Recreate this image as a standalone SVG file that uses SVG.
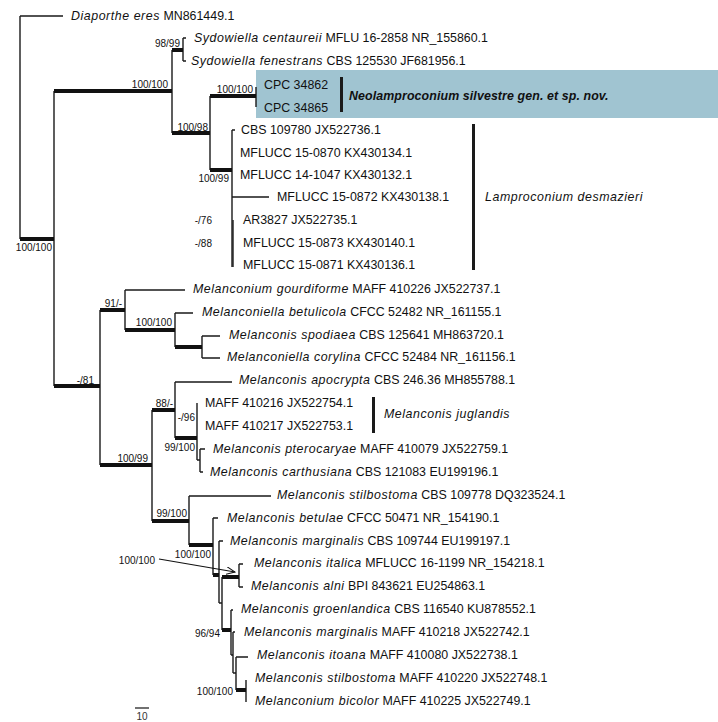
<svg xmlns="http://www.w3.org/2000/svg" width="718" height="722" viewBox="0 0 718 722">
<style>
text{font-family:"Liberation Sans",Arial,sans-serif;fill:#111}
.tip{font-size:12.4px}
.bs{font-size:10px;fill:#333}
.i{font-style:italic;letter-spacing:0.55px}
.b{font-weight:bold;letter-spacing:0.1px}
.br{stroke:#1a1a1a;stroke-width:1.4;fill:none}
.th{stroke:#111;stroke-width:4;fill:none}
.bar{fill:#1a1a1a}
</style>
<defs>
<marker id="ah" markerWidth="10" markerHeight="8" refX="9" refY="4" orient="auto" markerUnits="userSpaceOnUse">
<path d="M0,0 L9,4 L0,8" fill="none" stroke="#111" stroke-width="1"/>
</marker>
</defs>
<rect width="718" height="722" fill="#fff"/>
<g id="highlight">
<rect x="256" y="70" width="462" height="48" fill="#a0c4d1"/>
</g>
<g id="connectors">
<path class="br" d="M20,16V239 M20,16H63 M54,91V386 M172,50V133 M183,38V61 M183,38H186 M183,61H186 M210,96V170 M256,87V107 M232,130V267 M232,130H235 M232,197H269 M100,310V465 M125,290V330 M125,290H185 M175,313V347 M175,313H193 M202,336V358 M202,336H220 M202,358H220 M152,410V521 M175,382V438 M175,382H232 M197,403V460 M197,460H200 M200,449V472 M200,449H205 M200,472H203 M189,496V545 M189,496H271 M213,518V575 M213,518H218 M219,541V603 M219,541H223 M219,603H222 M222,577V630 M239,564V587 M239,564H243 M239,587H243 M231,610V655 M231,610H233 M233,632V673 M231,655H233 M233,632H235 M236,657V690 M236,657H248 M233,673H236 M246,680V702"/>
<path class="br" stroke-width="2.6" d="M233,220V267"/>
<path class="th" d="M20,239H54 M54,91H172 M172,50H183 M172,133H210 M210,96H256 M210,170H232 M54,386H100 M100,310H125 M125,330H175 M175,347H202 M100,465H152 M152,410H175 M175,438H197 M152,521H189 M189,545H213 M213,575H219 M222,577H239 M222,630H231 M236,690H246"/>
<line x1="159" y1="559" x2="235" y2="572" stroke="#111" stroke-width="1.1" marker-end="url(#ah)"/>
<line x1="135" y1="708" x2="149" y2="708" stroke="#111" stroke-width="1.2"/>
</g>
<g id="clade-bars">
<rect class="bar" x="340" y="77" width="3" height="35"/>
<rect class="bar" x="472" y="124" width="3" height="146"/>
<rect class="bar" x="372" y="397" width="3" height="36"/>
</g>
<g id="tips" class="tip">
<g id="t1"><text x="71" y="20"><tspan class="i">Diaporthe eres</tspan> MN861449.1</text></g>
<g id="t2"><text x="194" y="42"><tspan class="i">Sydowiella centaureii</tspan> MFLU 16-2858 NR_155860.1</text></g>
<g id="t3"><text x="191" y="65"><tspan class="i">Sydowiella fenestrans</tspan> CBS 125530 JF681956.1</text></g>
<g id="t4"><text x="264" y="89">CPC 34862</text></g>
<g id="t5"><text x="264" y="112">CPC 34865</text></g>
<g id="t6"><text x="241" y="134">CBS 109780 JX522736.1</text></g>
<g id="t7"><text x="240" y="157">MFLUCC 15-0870 KX430134.1</text></g>
<g id="t8"><text x="240" y="179">MFLUCC 14-1047 KX430132.1</text></g>
<g id="t9"><text x="277" y="201">MFLUCC 15-0872 KX430138.1</text></g>
<g id="t10"><text x="243" y="224">AR3827 JX522735.1</text></g>
<g id="t11"><text x="243" y="247">MFLUCC 15-0873 KX430140.1</text></g>
<g id="t12"><text x="243" y="269">MFLUCC 15-0871 KX430136.1</text></g>
<g id="t13"><text x="193" y="293"><tspan class="i">Melanconium gourdiforme</tspan> MAFF 410226 JX522737.1</text></g>
<g id="t14"><text x="202" y="316"><tspan class="i">Melanconiella betulicola</tspan> CFCC 52482 NR_161155.1</text></g>
<g id="t15"><text x="229" y="339"><tspan class="i">Melanconis spodiaea</tspan> CBS 125641 MH863720.1</text></g>
<g id="t16"><text x="227" y="361"><tspan class="i">Melanconiella corylina</tspan> CFCC 52484 NR_161156.1</text></g>
<g id="t17"><text x="239" y="384"><tspan class="i">Melanconis apocrypta</tspan> CBS 246.36 MH855788.1</text></g>
<g id="t18"><text x="205" y="407">MAFF 410216 JX522754.1</text></g>
<g id="t19"><text x="205" y="430">MAFF 410217 JX522753.1</text></g>
<g id="t20"><text x="213" y="453"><tspan class="i">Melanconis pterocaryae</tspan> MAFF 410079 JX522759.1</text></g>
<g id="t21"><text x="210" y="476"><tspan class="i">Melanconis carthusiana</tspan> CBS 121083 EU199196.1</text></g>
<g id="t22"><text x="277" y="499"><tspan class="i">Melanconis stilbostoma</tspan> CBS 109778 DQ323524.1</text></g>
<g id="t23"><text x="227" y="522"><tspan class="i">Melanconis betulae</tspan> CFCC 50471 NR_154190.1</text></g>
<g id="t24"><text x="230" y="545"><tspan class="i">Melanconis marginalis</tspan> CBS 109744 EU199197.1</text></g>
<g id="t25"><text x="254" y="567"><tspan class="i">Melanconis italica</tspan> MFLUCC 16-1199 NR_154218.1</text></g>
<g id="t26"><text x="251" y="590"><tspan class="i">Melanconis alni</tspan> BPI 843621 EU254863.1</text></g>
<g id="t27"><text x="241" y="613"><tspan class="i">Melanconis groenlandica</tspan> CBS 116540 KU878552.1</text></g>
<g id="t28"><text x="244" y="636"><tspan class="i">Melanconis marginalis</tspan> MAFF 410218 JX522742.1</text></g>
<g id="t29"><text x="257" y="659"><tspan class="i">Melanconis itoana</tspan> MAFF 410080 JX522738.1</text></g>
<g id="t30"><text x="255" y="682"><tspan class="i">Melanconis stilbostoma</tspan> MAFF 410220 JX522748.1</text></g>
<g id="t31"><text x="255" y="705"><tspan class="i">Melanconium bicolor</tspan> MAFF 410225 JX522749.1</text></g>
</g>
<g id="clade-labels" class="tip">
<g id="c1"><text x="349" y="100" class="i b">Neolamproconium silvestre gen. et sp. nov.</text></g>
<g id="c2"><text x="485" y="201" class="i">Lamproconium desmazieri</text></g>
<g id="c3"><text x="384" y="418" class="i">Melanconis juglandis</text></g>
</g>
<g id="support" class="bs" text-anchor="end">
<text x="52" y="251">100/100</text>
<text x="168" y="88">100/100</text>
<text x="180" y="47">98/99</text>
<text x="208" y="131">100/98</text>
<text x="253" y="93">100/100</text>
<text x="229" y="182">100/99</text>
<text x="212" y="224">-/76</text>
<text x="212" y="247">-/88</text>
<text x="94" y="384">-/81</text>
<text x="122" y="307">91/-</text>
<text x="172" y="326">100/100</text>
<text x="173" y="407">88/-</text>
<text x="195" y="421">-/96</text>
<text x="195" y="451">99/100</text>
<text x="148" y="462">100/99</text>
<text x="187" y="517">99/100</text>
<text x="211" y="558">100/100</text>
<text x="155" y="564">100/100</text>
<text x="220" y="637">96/94</text>
<text x="233" y="695">100/100</text>
</g>
<g id="scale"><text x="142" y="720" class="bs" text-anchor="middle">10</text></g>
</svg>
